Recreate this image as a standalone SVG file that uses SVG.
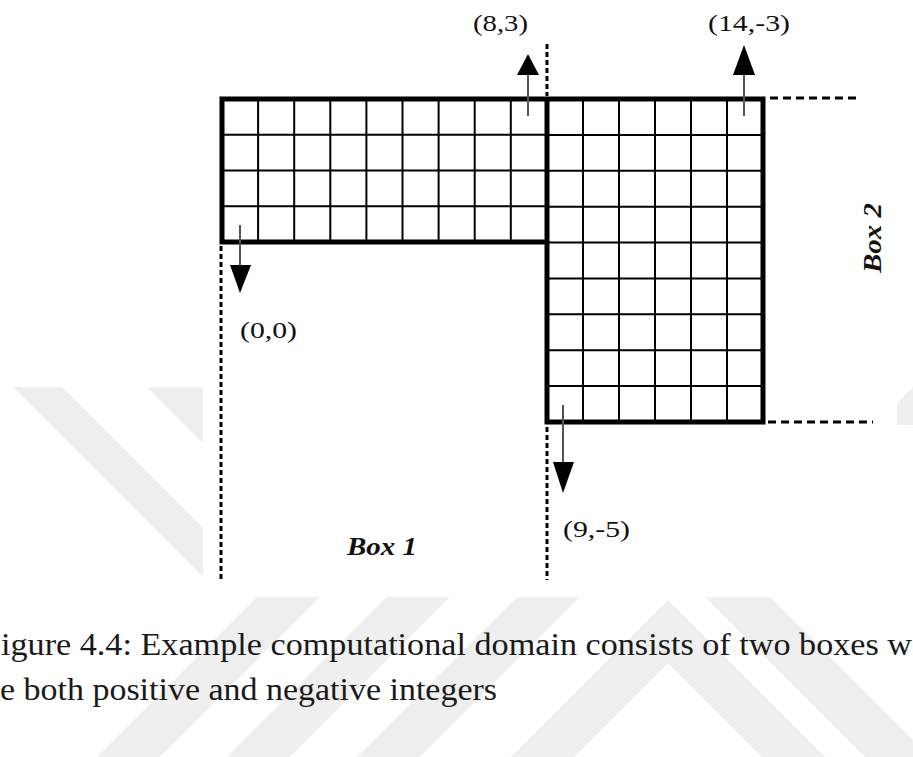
<svg xmlns="http://www.w3.org/2000/svg" width="913" height="757" viewBox="0 0 913 757">
<style>
.wm{fill:#efefef}
.grid{stroke:#000;stroke-width:2;fill:none}
.thick{stroke:#000;stroke-width:5;fill:none;stroke-linejoin:miter;stroke-linecap:square}
.dashv{stroke:#000;stroke-width:3;stroke-dasharray:5 3;fill:none}
.dashh{stroke:#000;stroke-width:3;stroke-dasharray:8 5;fill:none}
.shaft{stroke:#555;stroke-width:2;fill:none}
.head{fill:#000}
.lbl{font-size:24px;fill:#111}
.box{font-size:26px;font-weight:bold;font-style:italic;fill:#111}
.cap{font-size:32px;fill:#1a1a1a}
</style>
<rect width="913" height="757" fill="#fff"/>
<g id="watermark">
<polygon class="wm" points="13,387 62,387 272,597 223,597"/>
<polygon class="wm" points="147,387 210,387 420,597 357,597"/>
<polygon class="wm" points="913,387 913,425 897,425 897,403"/>
<polygon class="wm" points="97,757 160,757 320,597 257,597"/>
<polygon class="wm" points="227,757 290,757 450,597 387,597"/>
<polygon class="wm" points="357,757 420,757 580,597 517,597"/>
<polygon class="wm" points="511,757 668,600 825,757 762,757 668,663 574,757"/>
<polygon class="wm" points="705,597 770,597 930,757 865,757"/>
</g>
<rect x="203" y="0" width="694" height="597" fill="#fff"/>
<g id="box1">
<path class="grid" d="M258.1,99V242M294.2,99V242M330.3,99V242M366.4,99V242M402.5,99V242M438.6,99V242M474.7,99V242M510.8,99V242M222,134.75H547M222,170.5H547M222,206.25H547"/>
</g>
<g id="box2">
<path class="grid" d="M583,99V422M619,99V422M655,99V422M691,99V422M727,99V422M547,134.9H763M547,170.8H763M547,206.7H763M547,242.6H763M547,278.4H763M547,314.3H763M547,350.2H763M547,386.1H763"/>
</g>
<g id="outline">
<path class="thick" d="M222,99H763V422H547V242H222Z M547,99V242"/>
</g>
<g id="connectors">
<line class="dashv" x1="547" y1="44" x2="547" y2="96"/>
<line class="dashv" x1="221" y1="246" x2="221" y2="580"/>
<line class="dashv" x1="547" y1="427" x2="547" y2="580"/>
<line class="dashh" x1="770" y1="98" x2="856" y2="98"/>
<line class="dashh" x1="768" y1="422" x2="873" y2="422"/>
<line class="shaft" x1="528" y1="116" x2="528" y2="74"/>
<polygon class="head" points="517,75 539,75 528,54"/>
<line class="shaft" x1="744" y1="116" x2="744" y2="74"/>
<polygon class="head" points="733,75 755,75 744,45"/>
<line class="shaft" x1="240" y1="225" x2="240" y2="266"/>
<polygon class="head" points="230,265 251,265 240,293"/>
<line class="shaft" x1="563" y1="405" x2="563" y2="463"/>
<polygon class="head" points="553,462 574,462 563,493"/>
</g>
<g id="labels" font-family="'Liberation Serif', 'DejaVu Serif', serif">
<text class="lbl" x="473" y="31" textLength="55" lengthAdjust="spacingAndGlyphs">(8,3)</text>
<text class="lbl" x="708" y="31" textLength="82" lengthAdjust="spacingAndGlyphs">(14,-3)</text>
<text class="lbl" x="240" y="338" textLength="57" lengthAdjust="spacingAndGlyphs">(0,0)</text>
<text class="lbl" x="563" y="537" textLength="67" lengthAdjust="spacingAndGlyphs">(9,-5)</text>
<text class="box" x="347" y="555" textLength="70" lengthAdjust="spacingAndGlyphs">Box 1</text>
<text class="box" transform="translate(881,273) rotate(-90)" textLength="70" lengthAdjust="spacingAndGlyphs">Box 2</text>
</g>
<g id="caption" font-family="'Liberation Serif', 'DejaVu Serif', serif">
<text class="cap" x="1" y="655" textLength="911" lengthAdjust="spacingAndGlyphs">igure 4.4: Example computational domain consists of two boxes w</text>
<text class="cap" x="0" y="700" textLength="497" lengthAdjust="spacingAndGlyphs">e both positive and negative integers</text>
</g>
</svg>
